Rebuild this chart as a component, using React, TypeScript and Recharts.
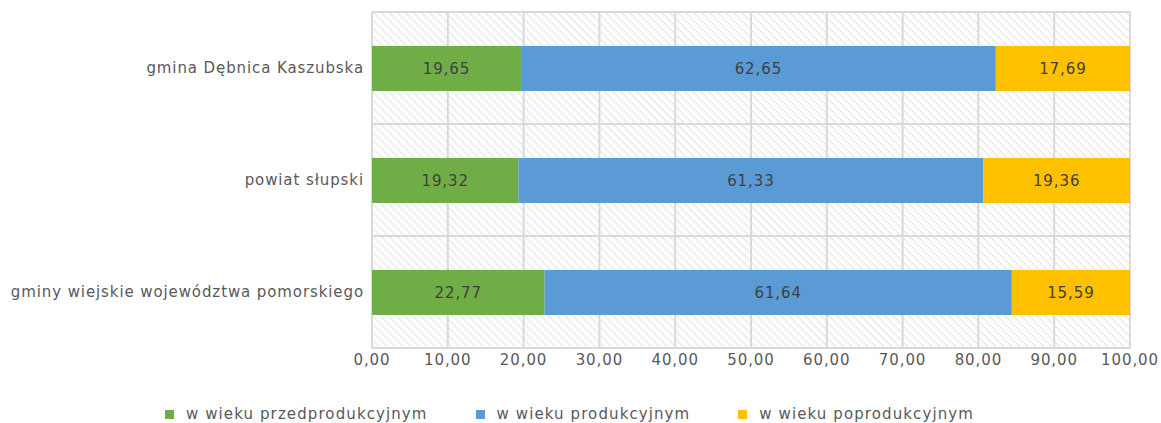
import React from 'react';
import { BarChart, Bar, XAxis, YAxis, CartesianGrid, LabelList, Legend } from 'recharts';

const categories = ['gmina Dębnica Kaszubska', 'powiat słupski', 'gminy wiejskie województwa pomorskiego'];
const przed = [19.65, 19.32, 22.77];
const prod = [62.65, 61.33, 61.64];
const popro = [17.69, 19.36, 15.59];
const xTicks = [0, 10, 20, 30, 40, 50, 60, 70, 80, 90, 100];
const seriesNames = ['w wieku przedprodukcyjnym', 'w wieku produkcyjnym', 'w wieku poprodukcyjnym'];
const colors = ['#70AD47', '#5B9BD5', '#FFC000'];

const data = categories.map((c, i) => ({ name: c, a: przed[i], b: prod[i], c: popro[i] }));
const fmt = (v: any) => Number(v).toFixed(2).replace('.', ',');
const FONT = '"DejaVu Sans", sans-serif';
const LS = 0.9;

const LegendContent = () => (
  <div style={{ display: 'flex', justifyContent: 'flex-start', paddingLeft: 165, gap: 48, fontFamily: FONT, fontSize: 15, letterSpacing: 1.1, color: '#595959', lineHeight: '18px', height: 24, paddingTop: 6, boxSizing: 'border-box' }}>
    {seriesNames.map((n, i) => (
      <div key={n} style={{ display: 'flex', alignItems: 'center' }}>
        <span style={{ display: 'inline-block', width: 9, height: 9, background: colors[i], marginRight: 12 }} />
        <span>{n}</span>
      </div>
    ))}
  </div>
);

export default function App() {
  return (
    <div style={{ position: 'absolute', left: 0, top: 0, width: 1161, height: 423, background: '#fff' }}>
      <svg width="0" height="0" style={{ position: 'absolute' }}>
        <defs>
          <pattern id="hatch" patternUnits="userSpaceOnUse" width="5.66" height="5.66" patternTransform="rotate(-45)">
            <line x1="0" y1="0" x2="0" y2="5.66" stroke="#CDCDCD" strokeWidth="1.1" />
          </pattern>
        </defs>
      </svg>
      <BarChart
        width={1161}
        height={423}
        data={data}
        layout="vertical"
        margin={{ top: 12, right: 31, left: 0, bottom: 0 }}
        barSize={45}
      >
        <CartesianGrid
          fill="url(#hatch)"
          stroke="#D9D9D9"
          strokeWidth={2}
          horizontalCoordinatesGenerator={({ offset }: any) => [0, 1, 2, 3].map((i) => offset.top + (i * offset.height) / 3)}
        />
        <XAxis
          type="number"
          domain={[0, 100]}
          ticks={xTicks}
          allowDataOverflow
          tickFormatter={fmt}
          axisLine={false}
          tickLine={false}
          tickMargin={0}
          tick={{ fill: '#595959', fontSize: 15, fontFamily: FONT, letterSpacing: LS }}
          height={51}
        />
        <YAxis
          type="category"
          dataKey="name"
          width={372}
          axisLine={false}
          tickLine={false}
          tick={{ fill: '#595959', fontSize: 15, fontFamily: FONT, letterSpacing: LS }}
        />
        <Legend content={<LegendContent />} verticalAlign="bottom" />
        <Bar dataKey="a" stackId="s" fill={colors[0]} isAnimationActive={false}>
          <LabelList dataKey="a" position="center" formatter={fmt} fill="#404040" fontSize={15} fontFamily={FONT} letterSpacing={LS} />
        </Bar>
        <Bar dataKey="b" stackId="s" fill={colors[1]} isAnimationActive={false}>
          <LabelList dataKey="b" position="center" formatter={fmt} fill="#404040" fontSize={15} fontFamily={FONT} letterSpacing={LS} />
        </Bar>
        <Bar dataKey="c" stackId="s" fill={colors[2]} isAnimationActive={false}>
          <LabelList dataKey="c" position="center" formatter={fmt} fill="#404040" fontSize={15} fontFamily={FONT} letterSpacing={LS} />
        </Bar>
      </BarChart>
    </div>
  );
}
